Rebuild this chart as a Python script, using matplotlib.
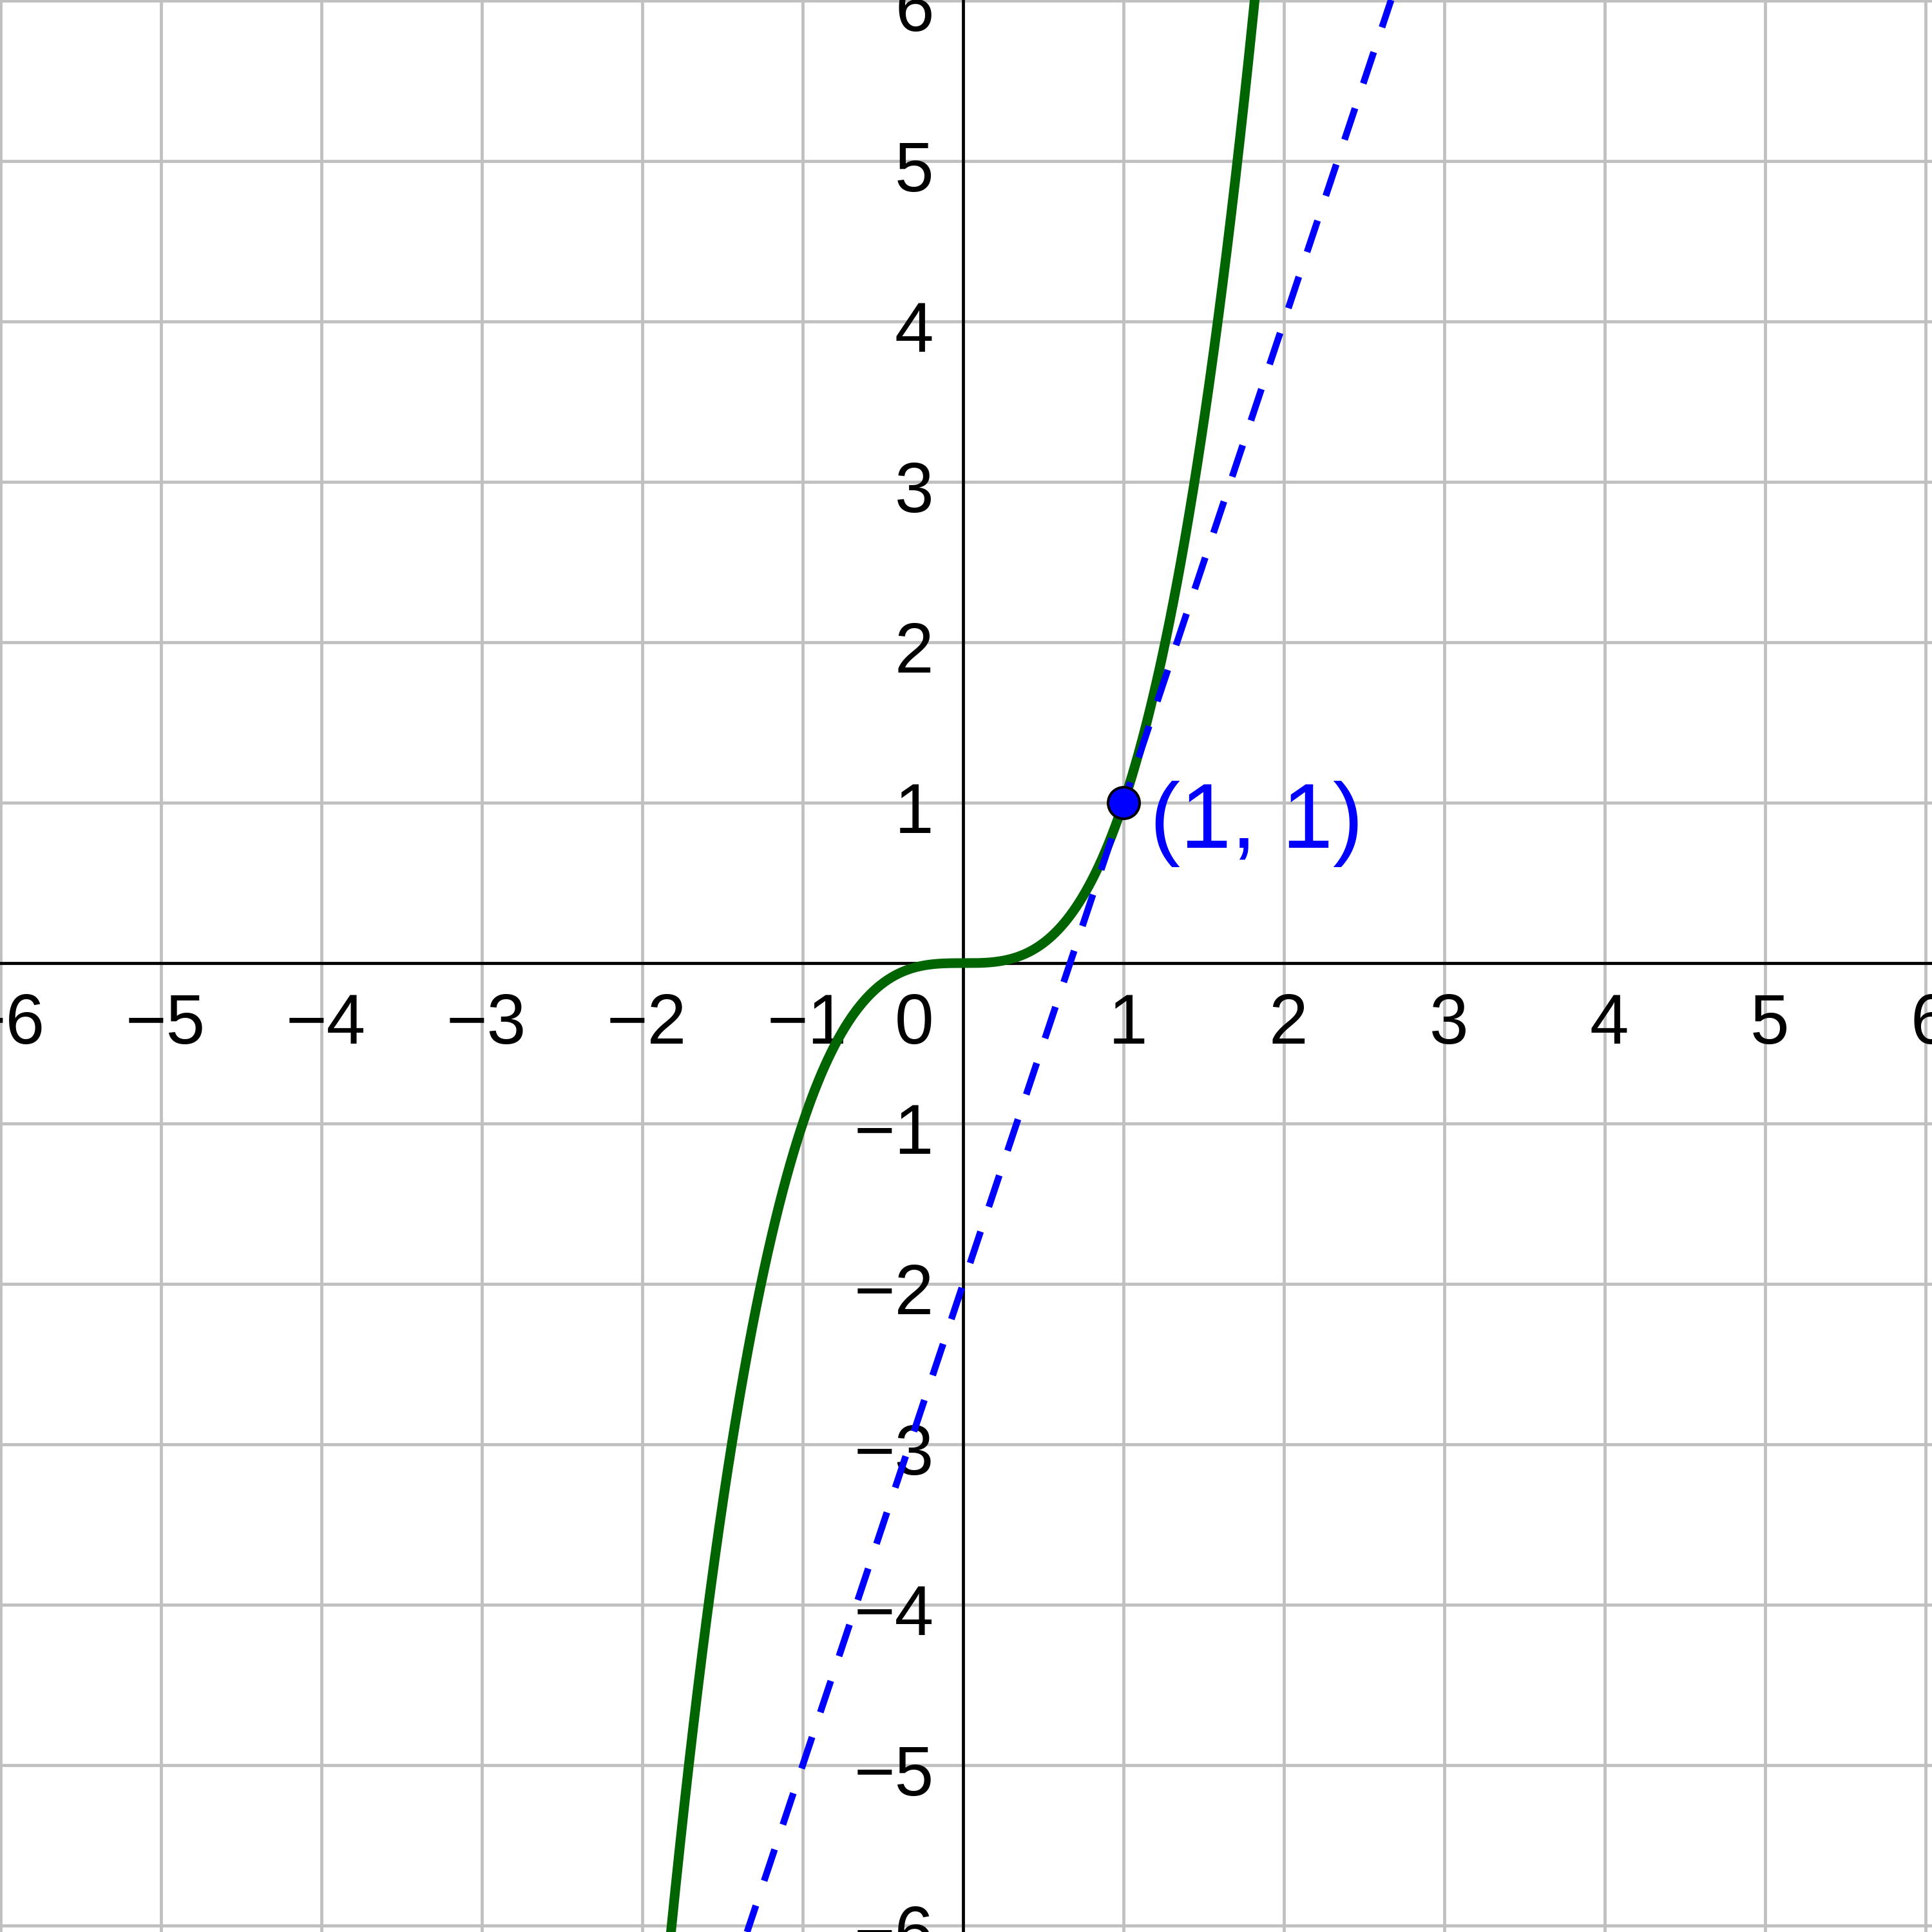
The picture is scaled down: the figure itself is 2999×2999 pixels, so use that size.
import numpy as np
import matplotlib
matplotlib.use("Agg")
import matplotlib.pyplot as plt

plt.rcParams['font.family'] = ['Liberation Sans', 'DejaVu Sans']

# ---- data ----
curve_coeffs = [1, 0, 0, 0]        # green curve: y = x^3
tangent_coeffs = [3, -2]           # dashed tangent: y = 3x - 2
point_x = [1]
point_y = [1]
point_label = "(1, 1)"
x_ticks = [-6, -5, -4, -3, -2, -1, 1, 2, 3, 4, 5, 6]
x_tick_labels = ["−6", "−5", "−4", "−3", "−2", "−1", "1", "2", "3", "4", "5", "6"]
y_ticks = [-6, -5, -4, -3, -2, -1, 1, 2, 3, 4, 5, 6]
y_tick_labels = ["−6", "−5", "−4", "−3", "−2", "−1", "1", "2", "3", "4", "5", "6"]
origin_label = "0"
grid_values = [-6, -5, -4, -3, -2, -1, 0, 1, 2, 3, 4, 5, 6]
x_range = (-6.004, 6.040)
y_range = (-6.040, 6.004)
curve_x_span = (-1.9, 1.9)
tangent_x_span = (-1.3467, 2.668)

# ---- figure ----
W = 2999
DPI = 100
fig = plt.figure(figsize=(W / DPI, W / DPI), dpi=DPI)
ax = fig.add_axes([0, 0, 1, 1])
ax.set_xlim(*x_range)
ax.set_ylim(*y_range)
ax.set_axis_off()

px = (x_range[1] - x_range[0]) / W   # data units per pixel
PT = 72.0 / DPI                       # points per pixel

grid_col = '#c0c0c0'
for g in grid_values:
    ax.axvline(g, color=grid_col, lw=4.8 * PT, zorder=0.5)
    ax.axhline(g, color=grid_col, lw=4.8 * PT, zorder=0.5)

ax.axhline(0, color='black', lw=4.7 * PT, zorder=1)
ax.axvline(0, color='black', lw=4.7 * PT, zorder=1)

tick_fs = 109 * PT
for t, lab in zip(x_ticks, x_tick_labels):
    ax.text(t + 7 * px, -125 * px, lab, ha='center', va='baseline',
            fontsize=tick_fs, color='black', zorder=1.5)
for t, lab in zip(y_ticks, y_tick_labels):
    ax.text(-45.5 * px, t - 47 * px, lab, ha='right', va='baseline',
            fontsize=tick_fs, color='black', zorder=1.5)
ax.text(-45.5 * px, -125 * px, origin_label, ha='right', va='baseline',
        fontsize=tick_fs, color='black', zorder=1.5)

# green curve
xs = np.linspace(curve_x_span[0], curve_x_span[1], 3000)
ax.plot(xs, np.polyval(curve_coeffs, xs), color='#006400', lw=15.0 * PT,
        solid_capstyle='round', solid_joinstyle='round', zorder=2)

# dashed tangent line
lw_t = 10.4
xt = np.array(tangent_x_span)
ax.plot(xt, np.polyval(tangent_coeffs, xt), color='#0000ff', lw=lw_t * PT,
        linestyle=(8.1 / lw_t, (51.4 / lw_t, 40.5 / lw_t)),
        dash_capstyle='butt', zorder=3)

# point and label
ax.plot(point_x, point_y, 'o', ms=49 * PT, mfc='#0000ff', mec='black',
        mew=4 * PT, zorder=4)
ax.text(point_x[0] + 0.163, point_y[0] - 0.281,
        point_label, ha='left', va='baseline', fontsize=142 * PT,
        color='#0000ff', zorder=4)

fig.savefig('out.png', dpi=DPI)
